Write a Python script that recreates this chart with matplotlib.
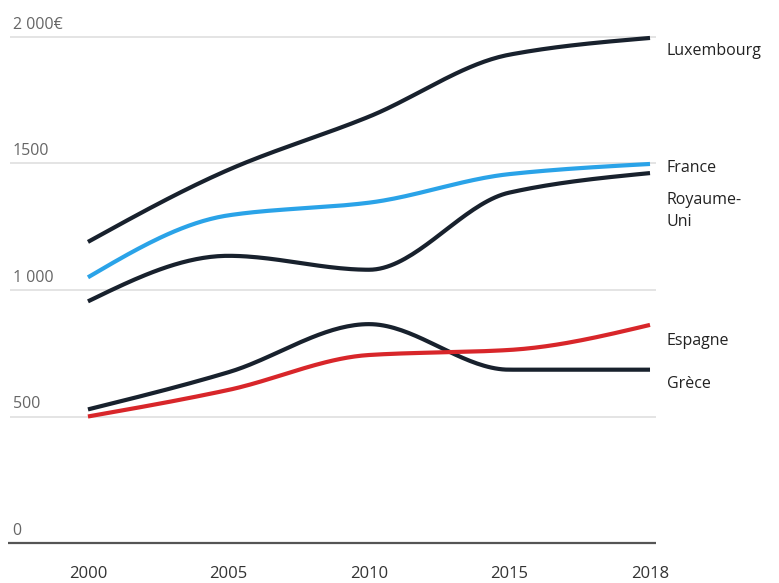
import numpy as np
import matplotlib.pyplot as plt

years = ["2000", "2005", "2010", "2015", "2018"]
luxembourg = [1190, 1475, 1685, 1930, 1996]
france = [1050, 1295, 1345, 1458, 1498]
royaume_uni = [955, 1135, 1080, 1385, 1462]
grece = [528, 675, 865, 685, 685]
espagne = [500, 605, 743, 763, 862]

y_ticks = [0, 500, 1000, 1500, 2000]
y_tick_labels = ["0", "500", "1 000", "1500", "2 000€"]

NAVY = "#18212d"
BLUE = "#2aa3e8"
RED = "#d8262a"

plt.rcParams['font.family'] = ['Open Sans', 'DejaVu Sans']


def monotone(xs, ys, n=40):
    # monotone cubic (Fritsch-Carlson), like d3 curveMonotoneX
    xs = np.asarray(xs, float)
    ys = np.asarray(ys, float)
    h = np.diff(xs)
    d = np.diff(ys) / h
    m = np.zeros_like(ys)
    for i in range(1, len(ys) - 1):
        if d[i - 1] * d[i] <= 0:
            m[i] = 0
        else:
            m[i] = (3 * (h[i - 1] + h[i])) / ((2 * h[i] + h[i - 1]) / d[i - 1] + (h[i] + 2 * h[i - 1]) / d[i])
    # end tangents like d3
    m[0] = (3 * d[0] - m[1]) / 2
    m[-1] = (3 * d[-1] - m[-2]) / 2
    out_x, out_y = [], []
    for i in range(len(h)):
        t = np.linspace(0, 1, n)
        h00 = 2 * t**3 - 3 * t**2 + 1
        h10 = t**3 - 2 * t**2 + t
        h01 = -2 * t**3 + 3 * t**2
        h11 = t**3 - t**2
        out_x.extend(xs[i] + t * h[i])
        out_y.extend(h00 * ys[i] + h10 * h[i] * m[i] + h01 * ys[i + 1] + h11 * h[i] * m[i + 1])
    return np.array(out_x), np.array(out_y)


fig = plt.figure(figsize=(7.79, 5.83), dpi=100)
ax = fig.add_axes([0, 0, 1, 1])
ax.set_xlim(-0.626, 4.918)
ax.set_ylim(-158, 2146)
ax.axis("off")

x = np.arange(len(years))

# grid
ax.hlines(y_ticks[1:], -0.555, 4.04, color="#dcdcdc", lw=1.1, zorder=1)
ax.hlines(0, -0.57, 4.04, color="#555555", lw=1.6, zorder=1)
for v, lab in zip(y_ticks, y_tick_labels):
    ax.text(-0.536, v + 32, lab, fontsize=11.5, color="#666666", ha="left", va="baseline")

series = [
    ("Luxembourg", luxembourg, NAVY),
    ("Royaume-\nUni", royaume_uni, NAVY),
    ("France", france, BLUE),
    ("Grèce", grece, NAVY),
    ("Espagne", espagne, RED),
]
for name, vals, col in series:
    sx, sy = monotone(x, vals)
    ax.plot(sx, sy, color=col, lw=3.0, solid_capstyle="butt", zorder=3)

# end labels
label_y = {"Luxembourg": 1944, "France": 1482, "Royaume-\nUni": 1312, "Espagne": 800, "Grèce": 628}
for name, vals, col in series:
    ax.text(4.12, label_y[name], name, fontsize=11.5, color="#222222",
            ha="left", va="center", linespacing=1.5)

for xi, yr in zip(x, years):
    ax.text(xi, -124, yr, fontsize=12, color="#333333", ha="center", va="center")

fig.savefig("out.png", dpi=100)
